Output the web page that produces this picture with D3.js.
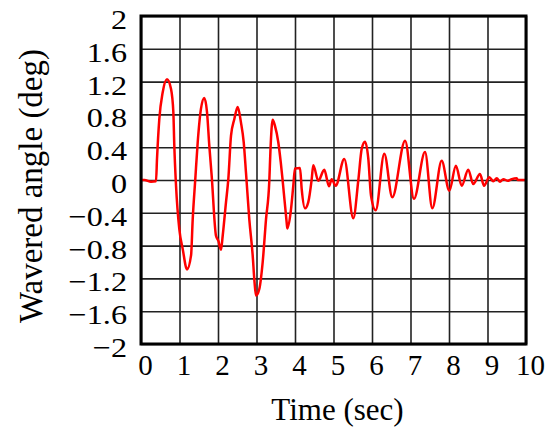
<!DOCTYPE html>
<html>
<head>
<meta charset="utf-8">
<script src="https://cdn.jsdelivr.net/npm/d3@7"></script>
<style>
  body { margin: 0; background: #fff; }
  svg text { font-family: "Liberation Serif", "Times New Roman", serif; fill: #000; }
</style>
</head>
<body>
<svg id="chart" width="558" height="434"></svg>
<script>
// Time history of the wavered angle
const timeSec = [
  0, 0.09, 0.26, 0.39, 0.416, 0.475, 0.564, 0.675, 0.78, 0.84, 0.865, 0.91,
  0.995, 1.083, 1.195, 1.30, 1.343, 1.41, 1.473, 1.558, 1.644, 1.714, 1.774, 1.836,
  1.948, 2.008, 2.078, 2.122, 2.208, 2.268, 2.338, 2.423, 2.512, 2.597, 2.668, 2.727,
  2.813, 2.901, 2.943, 2.987, 3.073, 3.161, 3.247, 3.332, 3.364, 3.42, 3.48, 3.566,
  3.629, 3.68, 3.784, 3.80, 3.888, 3.956, 4.0, 4.13, 4.174, 4.26, 4.345, 4.434,
  4.475, 4.605, 4.761, 4.883, 4.953, 5.057, 5.28, 5.514, 5.645, 5.733, 5.818, 5.904,
  5.974, 6.096, 6.319, 6.527, 6.86, 7.09, 7.377, 7.566, 7.81, 8.008, 8.18, 8.33,
  8.50, 8.63, 8.805, 8.91, 9.047, 9.15, 9.24, 9.325, 9.41, 9.53, 9.63, 9.76, 9.79, 10
];
const angleDeg = [
  0, 0, -0.02, -0.015, 0.26, 0.74, 1.07, 1.23, 1.11, 0.83, 0.42, -0.07,
  -0.6, -0.84, -1.09, -0.92, -0.48, 0.01, 0.46, 0.87, 1.0, 0.83, 0.42, 0.05,
  -0.68, -0.74, -0.85, -0.68, -0.27, 0.01, 0.54, 0.74, 0.89, 0.70, 0.46, 0.09,
  -0.48, -0.92, -1.21, -1.41, -1.33, -1.0, -0.48, -0.02, 0.38, 0.735, 0.66, 0.46,
  0.22, -0.01, -0.52, -0.59, -0.39, -0.07, 0.14, 0.146, -0.11, -0.345, -0.27, 0.01,
  0.18, -0.01, 0.125, -0.077, 0.01, -0.07, 0.256, -0.467, 0, 0.38, 0.467, 0.26,
  -0.19, -0.37, 0.32, -0.21, 0.48, -0.23, 0.34, -0.345, 0.235, -0.13, 0.174, -0.07,
  0.126, -0.05, 0.073, -0.07, 0.033, -0.016, 0.02, -0.02, 0.01, -0.01, 0.01, 0.02, 0, 0
];

const xTickValues = [0, 1, 2, 3, 4, 5, 6, 7, 8, 9, 10];
const yTickValues = [2, 1.6, 1.2, 0.8, 0.4, 0, -0.4, -0.8, -1.2, -1.6, -2];
const yTickLabels = ["2", "1.6", "1.2", "0.8", "0.4", "0", "\u22120.4", "\u22120.8", "\u22121.2", "\u22121.6", "\u22122"];
const xTitle = "Time (sec)";
const yTitle = "Wavered angle (deg)";

const svg = d3.select("#chart");
const plot = { left: 141, top: 16, right: 526, bottom: 344 };

const x = d3.scaleLinear().domain([0, 10]).range([plot.left, plot.right]);
const y = d3.scaleLinear().domain([-2, 2]).range([plot.bottom, plot.top]);

// Grid lines
const xGrid = d3.axisBottom(x).tickValues(xTickValues)
  .tickSize(-(plot.bottom - plot.top)).tickFormat("");
const yGrid = d3.axisLeft(y).tickValues(yTickValues)
  .tickSize(-(plot.right - plot.left)).tickFormat("");

svg.append("g").attr("transform", `translate(0,${plot.bottom})`).call(xGrid)
  .call(g => g.select(".domain").remove())
  .call(g => g.selectAll("line").attr("stroke", "#222").attr("stroke-width", 1.6));
svg.append("g").attr("transform", `translate(${plot.left},0)`).call(yGrid)
  .call(g => g.select(".domain").remove())
  .call(g => g.selectAll("line").attr("stroke", "#222").attr("stroke-width", 1.6));

// Tick labels
const xLabels = d3.axisBottom(x).tickValues(xTickValues).tickSize(0).tickPadding(0)
  .tickFormat(d => String(d));
svg.append("g").attr("transform", `translate(4,${plot.bottom})`).call(xLabels)
  .call(g => g.select(".domain").remove())
  .call(g => g.selectAll("text")
    .attr("y", 31).attr("dy", null)
    .attr("font-size", 29).attr("font-family", null).attr("fill", "#000"));

const yLabels = d3.axisLeft(y).tickValues(yTickValues).tickSize(0).tickPadding(0)
  .tickFormat((d, i) => yTickLabels[i]);
svg.append("g").attr("transform", `translate(127,3)`).call(yLabels)
  .call(g => g.select(".domain").remove())
  .call(g => g.selectAll("text")
    .attr("x", 0).attr("dy", "0.34em")
    .attr("transform", "scale(1.15,1)")
    .attr("font-size", 28).attr("font-family", null).attr("fill", "#000"));

// Data line
const line = d3.line()
  .x((d, i) => x(timeSec[i]))
  .y(d => y(d))
  .curve(d3.curveMonotoneX);

svg.append("defs").append("clipPath").attr("id", "plotClip")
  .append("rect")
  .attr("x", plot.left).attr("y", plot.top)
  .attr("width", plot.right - plot.left).attr("height", plot.bottom - plot.top);

svg.append("path")
  .datum(angleDeg)
  .attr("clip-path", "url(#plotClip)")
  .attr("fill", "none")
  .attr("stroke", "#ff0000")
  .attr("stroke-width", 2.5)
  .attr("stroke-linejoin", "round")
  .attr("d", line);

// Plot frame
svg.append("rect")
  .attr("x", plot.left).attr("y", plot.top)
  .attr("width", plot.right - plot.left).attr("height", plot.bottom - plot.top)
  .attr("fill", "none").attr("stroke", "#000").attr("stroke-width", 3);

// Axis titles
svg.append("text")
  .attr("x", (plot.left + plot.right) / 2 + 4).attr("y", 420)
  .attr("text-anchor", "middle").attr("font-size", 31)
  .text(xTitle);

svg.append("text")
  .attr("transform", `translate(42,186) rotate(-90)`)
  .attr("text-anchor", "middle").attr("font-size", 33)
  .text(yTitle);
</script>
</body>
</html>
